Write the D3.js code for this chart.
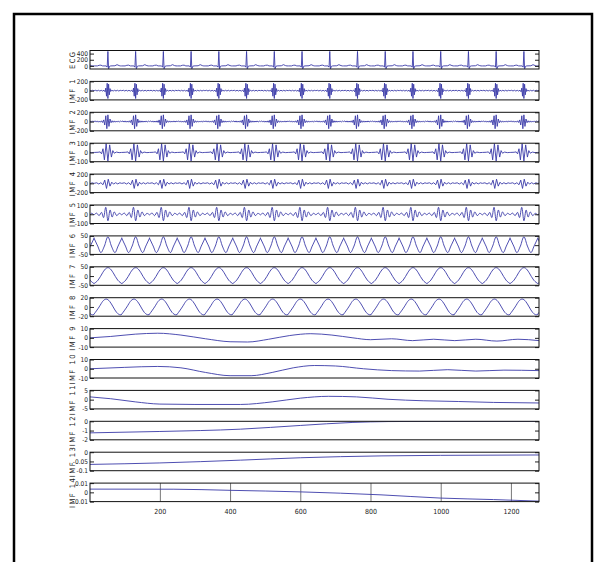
<!DOCTYPE html>
<html>
<head>
<meta charset="utf-8">
<script src="https://cdn.jsdelivr.net/npm/d3@7"></script>
<style>
  body { margin: 0; background: #fff; }
  text { font-family: "Liberation Sans Narrow", "DejaVu Sans Condensed", "Liberation Sans", Arial, sans-serif; fill: #222; }
</style>
</head>
<body>
<script>
const width = 597;
const height = 562;

// panel names, top to bottom
const names = ['ECG', 'IMF 1', 'IMF 2', 'IMF 3', 'IMF 4', 'IMF 5', 'IMF 6', 'IMF 7',
  'IMF 8', 'IMF 9', 'IMF 10', 'IMF 11', 'IMF 12', 'IMF 13', 'IMF 14'];

// y limits and y tick values of every panel
const yDomains = [[-100, 500], [-200, 200], [-200, 200], [-100, 100], [-200, 200], [-100, 100],
  [-50, 50], [-50, 50], [-20, 20], [-10, 10], [-10, 10], [-5, 5], [-2, 0], [-0.1, 0], [-0.01, 0.01]];
const yTicks = [[0, 200, 400], [-200, 0, 200], [-200, 0, 200], [-100, 0, 100], [-200, 0, 200],
  [-100, 0, 100], [-50, 0, 50], [-50, 0, 50], [-20, 0, 20], [-10, 0, 10], [-10, 0, 10],
  [-5, 0, 5], [-2, -1, 0], [-0.1, -0.05, 0], [-0.01, 0, 0.01]];

const xTicks = [200, 400, 600, 800, 1000, 1200];
const nSamples = 1280;

// R peak positions (sample index); first and last one sit outside the axis and get clipped
const beats = [-27, 52, 131, 210, 289, 368, 447, 526, 605, 684, 763, 842, 921, 1000, 1079, 1158, 1237, 1316];

// shape around each beat: [offset from R peak, value]
const ecgBeat = [[-39, 0], [-30, 0], [-25, 20], [-20, 25], [-15, 0], [-5, 0], [-2, -40], [0, 470],
  [2, -90], [5, -10], [8, 0], [20, 5], [26, 40], [32, 10], [36, 0], [39, 0]];
const imf1Beat = [[-39, 0], [-35, 8], [-31, -7], [-27, 8], [-23, -8], [-19, 7], [-15, -9],
  [-11, 10], [-8, -25], [-6, 55], [-4, -120], [-2, 160], [0, -170], [2, 140], [4, -90], [6, 45],
  [8, -18], [11, 10], [15, -8], [19, 8], [23, -7], [27, 8], [31, -8], [35, 7], [39, 0]];
const imf2Beat = [[-39, 0], [-36, 14], [-33, -12], [-30, 14], [-27, -14], [-24, 12], [-21, -14],
  [-18, 16], [-15, -20], [-12, 35], [-9, -75], [-6, 125], [-3, -155], [0, 145], [3, -105], [6, 55],
  [9, -25], [12, 18], [15, -16], [18, 14], [21, -14], [24, 12], [27, -12], [30, 14], [33, -12],
  [36, 10], [39, 0]];
const imf3Beat = [[-39, 0], [-28, 2], [-22, 6], [-18, -15], [-14, 40], [-10, -80], [-5, 95], [0, -92],
  [5, 82], [10, -50], [14, 20], [18, -8], [24, 4], [32, -2], [39, 0]];
const imf4Beat = [[-39, 0], [-32, 12], [-26, -14], [-20, 14], [-14, -30], [-9, 70], [-4, -110],
  [1, 90], [6, -60], [11, 25], [16, -16], [22, 14], [28, -12], [34, 12], [39, 0]];
const imf5Beat = [[-39, -5], [-32, 12], [-25, -15], [-18, 20], [-12, -35], [-6, 75], [0, -70],
  [6, 45], [12, -30], [18, 25], [25, -15], [32, 10], [39, -5]];
const imf6Beat = [[-39, 35], [-29, -5], [-20, -40], [-10, -5], [0, 45], [10, -5], [20, -40],
  [29, -5], [39, 35]];
const imf7Beat = [[-39, -40], [-28, -22], [-15, 18], [-5, 42], [0, 45], [5, 42], [15, 18],
  [28, -22], [39, -40]];
const imf8Beat = [[-39, -15], [-25, 0], [-15, 12], [-5, 17], [5, 12], [15, 0], [25, -12],
  [35, -17], [39, -16]];

// slow modes: [sample, value]
const imf9 = [[1, 0], [60, 1.5], [130, 4], [194, 5], [260, 3], [330, -1], [400, -4.2], [450, -4.5],
  [510, -1.5], [570, 2.5], [630, 4.5], [690, 3], [750, 0], [800, -2], [860, -1], [920, -3],
  [980, -1.5], [1040, -3], [1100, -1.5], [1160, -3.5], [1220, -1.5], [1280, -3]];
const imf10 = [[1, 0], [100, 1.5], [194, 2.5], [260, 1], [330, -4], [400, -7.5], [460, -7.5],
  [520, -4], [580, 1], [640, 3.5], [700, 3], [780, 0], [860, -2], [940, -2.5], [1020, -1],
  [1100, -2.5], [1180, -1.5], [1280, -2]];
const imf11 = [[1, 1.5], [60, 0.5], [130, -1.2], [200, -2.4], [300, -2.6], [430, -2.6], [520, -1.2],
  [600, 0.8], [680, 1.8], [760, 1.5], [850, 0.2], [950, -0.6], [1050, -1], [1150, -1.5], [1280, -1.8]];
const imf12 = [[1, -1.25], [200, -1.1], [430, -0.85], [600, -0.45], [750, -0.12], [850, -0.03],
  [1000, 0], [1280, 0]];
const imf13 = [[1, -0.066], [200, -0.058], [430, -0.043], [600, -0.03], [830, -0.02], [1000, -0.017],
  [1280, -0.015]];
const imf14 = [[1, 0.0035], [240, 0.0034], [400, 0.0022], [600, 0.0005], [830, -0.0027],
  [1000, -0.0062], [1150, -0.0078], [1280, -0.0095]];

const perBeat = shape => beats.flatMap(b => shape.map(([dx, v]) => [b + dx, v]));

const series = [perBeat(ecgBeat), perBeat(imf1Beat), perBeat(imf2Beat), perBeat(imf3Beat),
  perBeat(imf4Beat), perBeat(imf5Beat), perBeat(imf6Beat), perBeat(imf7Beat), perBeat(imf8Beat),
  imf9, imf10, imf11, imf12, imf13, imf14];
const curves = [d3.curveLinear, d3.curveLinear, d3.curveLinear, d3.curveLinear, d3.curveLinear,
  d3.curveCardinal, d3.curveCardinal, d3.curveNatural, d3.curveNatural,
  d3.curveMonotoneX, d3.curveMonotoneX, d3.curveMonotoneX, d3.curveMonotoneX, d3.curveMonotoneX, d3.curveMonotoneX];

const svg = d3.select('body').append('svg').attr('width', width).attr('height', height);

svg.append('rect').attr('width', width).attr('height', height).attr('fill', '#fff');
// frame round the figure (bottom edge falls off the picture)
svg.append('rect')
  .attr('x', 14).attr('y', 14).attr('width', 578).attr('height', 570)
  .attr('fill', 'none').attr('stroke', '#000').attr('stroke-width', 2.5);

const x = d3.scaleLinear().domain([1, nSamples]).range([90, 539]);
const rowTop = d3.scaleLinear().domain([0, 14]).range([50.5, 483.1]);
const panelH = 18.5;

names.forEach((name, i) => {
  const top = rowTop(i);
  const y = d3.scaleLinear().domain(yDomains[i]).range([top + panelH, top]);
  const g = svg.append('g');

  g.append('clipPath').attr('id', 'clip' + i)
    .append('rect').attr('x', x.range()[0]).attr('y', top)
    .attr('width', x.range()[1] - x.range()[0]).attr('height', panelH);

  // x ticks only on the bottom panel, drawn across the whole panel
  if (i === names.length - 1) {
    const xa = g.append('g').attr('transform', `translate(0,${top + panelH})`)
      .call(d3.axisBottom(x).tickValues(xTicks).tickSize(-panelH).tickPadding(7).tickFormat(d => String(d)));
    xa.select('.domain').remove();
    xa.selectAll('line').attr('stroke', '#555').attr('stroke-width', 0.8);
    xa.selectAll('text').attr('font-size', 7).attr('font-family', null);
  }

  const line = d3.line().x(d => x(d[0])).y(d => y(d[1])).curve(curves[i]);
  g.append('path')
    .datum(series[i])
    .attr('clip-path', `url(#clip${i})`)
    .attr('d', line)
    .attr('fill', 'none')
    .attr('stroke', '#3a3aa8')
    .attr('stroke-width', 0.9);

  const left = g.append('g').attr('transform', `translate(${x.range()[0]},0)`)
    .call(d3.axisLeft(y).tickValues(yTicks[i]).tickSize(-4).tickPadding(2).tickFormat(d => String(d)));
  left.select('.domain').remove();
  left.selectAll('line').attr('stroke', '#222');
  left.selectAll('text').attr('font-size', 6.5).attr('font-family', null);

  const right = g.append('g').attr('transform', `translate(${x.range()[1]},0)`)
    .call(d3.axisRight(y).tickValues(yTicks[i]).tickSize(-4).tickFormat(''));
  right.select('.domain').remove();
  right.selectAll('line').attr('stroke', '#222');

  g.append('rect')
    .attr('x', x.range()[0]).attr('y', top)
    .attr('width', x.range()[1] - x.range()[0]).attr('height', panelH)
    .attr('fill', 'none').attr('stroke', '#111').attr('stroke-width', 1);

  g.append('text')
    .attr('transform', `translate(75,${top + panelH / 2}) rotate(-90)`)
    .attr('text-anchor', 'middle')
    .attr('font-size', 7.5)
    .attr('letter-spacing', 1.5)
    .text(name);
});
</script>
</body>
</html>
